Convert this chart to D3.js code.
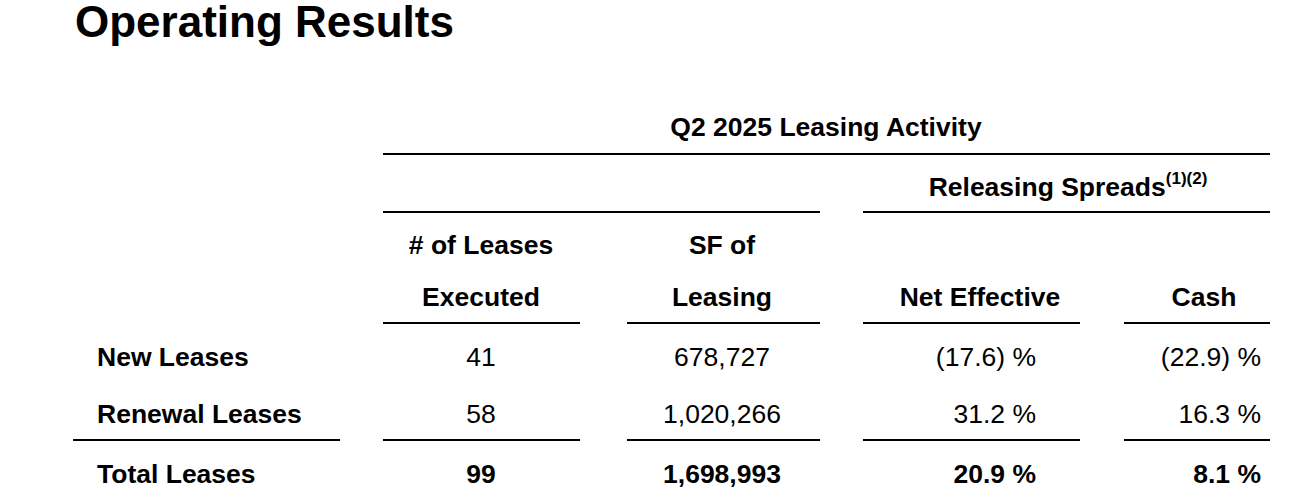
<!DOCTYPE html>
<html><head><meta charset="utf-8">
<script src="https://cdn.jsdelivr.net/npm/d3@7/dist/d3.min.js"></script>
<style>body{margin:0;background:#fff}</style></head>
<body><svg id="c" width="1292" height="502"></svg>
<script>
const title = "Operating Results";
const groupTitle = "Q2 2025 Leasing Activity";
const rows = ["New Leases", "Renewal Leases", "Total Leases"];
const leases = ["41", "58", "99"];
const sf = ["678,727", "1,020,266", "1,698,993"];
const netEff = ["(17.6) %", "31.2 %", "20.9 %"];
const cash = ["(22.9) %", "16.3 %", "8.1 %"];

const svg = d3.select("#c");
const F = "Liberation Sans, Arial, sans-serif";
const y = d3.scalePoint().domain(rows).range([359, 476]);
const yMap = {"New Leases":359,"Renewal Leases":416,"Total Leases":476};
const t = (x, yy, s, o = {}) => svg.append("text").attr("x", x).attr("y", yy)
  .attr("font-family", F).attr("font-size", o.size || 26.5).attr("font-weight", o.bold ? "bold" : "normal")
  .attr("text-anchor", o.anchor || "middle").attr("dominant-baseline", "middle").attr("fill", "#000").text(s);
const line = (x1, x2, yy) => svg.append("line").attr("x1", x1).attr("x2", x2).attr("y1", yy).attr("y2", yy)
  .attr("stroke", "#000").attr("stroke-width", 2);

t(75, 25, title, {size: 44, bold: true, anchor: "start"});
t(826, 129, groupTitle, {bold: true});
line(383, 1270, 154);
const rs = t(1068, 189, "Releasing Spreads", {bold: true});
rs.append("tspan").attr("font-size", 17).attr("dy", -9).text("(1)(2)");
line(383, 820, 212); line(863, 1270, 212);
t(481, 247, "# of Leases", {bold: true}); t(481, 299, "Executed", {bold: true});
t(722, 247, "SF of", {bold: true}); t(722, 299, "Leasing", {bold: true});
t(980, 299, "Net Effective", {bold: true}); t(1204, 299, "Cash", {bold: true});
const cols = [[383,580],[627,820],[863,1080],[1124,1270]];
cols.forEach(c => line(c[0], c[1], 323));
line(73, 340, 440); cols.forEach(c => line(c[0], c[1], 440));

rows.forEach((r, i) => {
  const yy = yMap[r] ?? y(r);
  const b = i === 2;
  t(97, yy, r, {bold: true, anchor: "start"});
  t(481, yy, leases[i], {bold: b});
  t(722, yy, sf[i], {bold: b});
  t(1036, yy, netEff[i], {bold: b, anchor: "end"});
  t(1261, yy, cash[i], {bold: b, anchor: "end"});
});
</script></body></html>
